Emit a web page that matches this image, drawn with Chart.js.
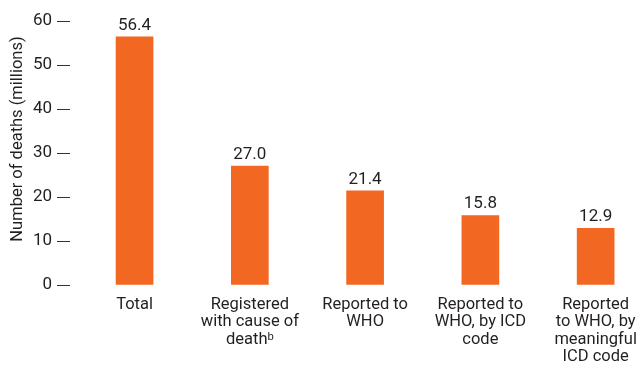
<!DOCTYPE html>
<html>
<head>
<meta charset="utf-8">
<script src="https://cdn.jsdelivr.net/npm/chart.js@4"></script>
<style>
  html, body { margin: 0; padding: 0; background: #ffffff; }
  canvas { display: block; }
</style>
</head>
<body>
<canvas id="deaths" width="636" height="365"></canvas>
<script>
// death counts along the reporting chain, in millions
const categories = [
    ['Total'],
    ['Registered', 'with cause of', 'deathᵇ'],
    ['Reported to', 'WHO'],
    ['Reported to', 'WHO, by ICD', 'code'],
    ['Reported', 'to WHO, by', 'meaningful', 'ICD code']
];
const deaths = [56.4, 27.0, 21.4, 15.8, 12.9];
const yTicks = [0, 10, 20, 30, 40, 50, 60];

const FONT = "'Liberation Sans Narrow', Roboto, sans-serif";
const TEXT = '#231f20';
const ORANGE = '#f26722';

// numbers above each bar
const valueLabels = {
    id: 'valueLabels',
    afterDatasetsDraw(chart) {
        const ctx = chart.ctx;
        const meta = chart.getDatasetMeta(0);
        ctx.save();
        ctx.font = '17px ' + FONT;
        ctx.fillStyle = TEXT;
        ctx.textAlign = 'center';
        ctx.textBaseline = 'alphabetic';
        meta.data.forEach(function (bar, i) {
            ctx.fillText(deaths[i].toFixed(1), bar.x, bar.y - 7);
        });
        ctx.restore();
    }
};

// rotated y axis title, sits a little above the axis middle
const yTitle = {
    id: 'yTitle',
    afterDraw(chart) {
        const ctx = chart.ctx;
        const area = chart.chartArea;
        ctx.save();
        ctx.translate(18, (area.top + area.bottom) / 2 - 14);
        ctx.rotate(-Math.PI / 2);
        ctx.font = '16.5px ' + FONT;
        ctx.fillStyle = TEXT;
        ctx.textAlign = 'center';
        ctx.textBaseline = 'middle';
        ctx.fillText('Number of deaths (millions)', 0, 0);
        ctx.restore();
    }
};

const ctx = document.getElementById('deaths').getContext('2d');
const chart = new Chart(ctx, {
    type: 'bar',
    data: {
        datasets: [{
            data: deaths.map(function (v, i) { return { x: i, y: v }; }),
            backgroundColor: ORANGE,
            borderWidth: 0,
            barThickness: 37
        }]
    },
    options: {
        responsive: false,
        animation: false,
        devicePixelRatio: 1,
        layout: { padding: { top: 21, right: 0, bottom: 0, left: 0 } },
        plugins: {
            legend: { display: false },
            tooltip: { enabled: false }
        },
        scales: {
            x: {
                type: 'linear',
                offset: false,
                min: -0.56,
                max: 4.35,
                grid: { display: false },
                border: { display: false },
                afterBuildTicks: function (axis) {
                    axis.ticks = categories.map(function (c, i) { return { value: i }; });
                },
                afterFit: function (axis) {
                    axis.height = 80;
                    // let the last label run to the canvas edge
                    axis.paddingLeft = 0;
                    axis.paddingRight = 0;
                },
                ticks: {
                    autoSkip: false,
                    maxRotation: 0,
                    padding: 3,
                    color: TEXT,
                    font: { family: FONT, size: 16.5, lineHeight: 1.06 },
                    callback: function (value) { return categories[value]; }
                }
            },
            y: {
                min: 0,
                max: 60,
                afterBuildTicks: function (axis) {
                    axis.ticks = yTicks.map(function (v) { return { value: v }; });
                },
                afterFit: function (axis) { axis.width = 70; },
                grid: {
                    drawOnChartArea: false,
                    drawTicks: true,
                    tickLength: 13,
                    color: '#333333',
                    lineWidth: 1
                },
                border: { display: false },
                ticks: {
                    padding: 5,
                    color: TEXT,
                    font: { family: FONT, size: 17 }
                }
            }
        }
    },
    plugins: [valueLabels, yTitle]
});
</script>
</body>
</html>
